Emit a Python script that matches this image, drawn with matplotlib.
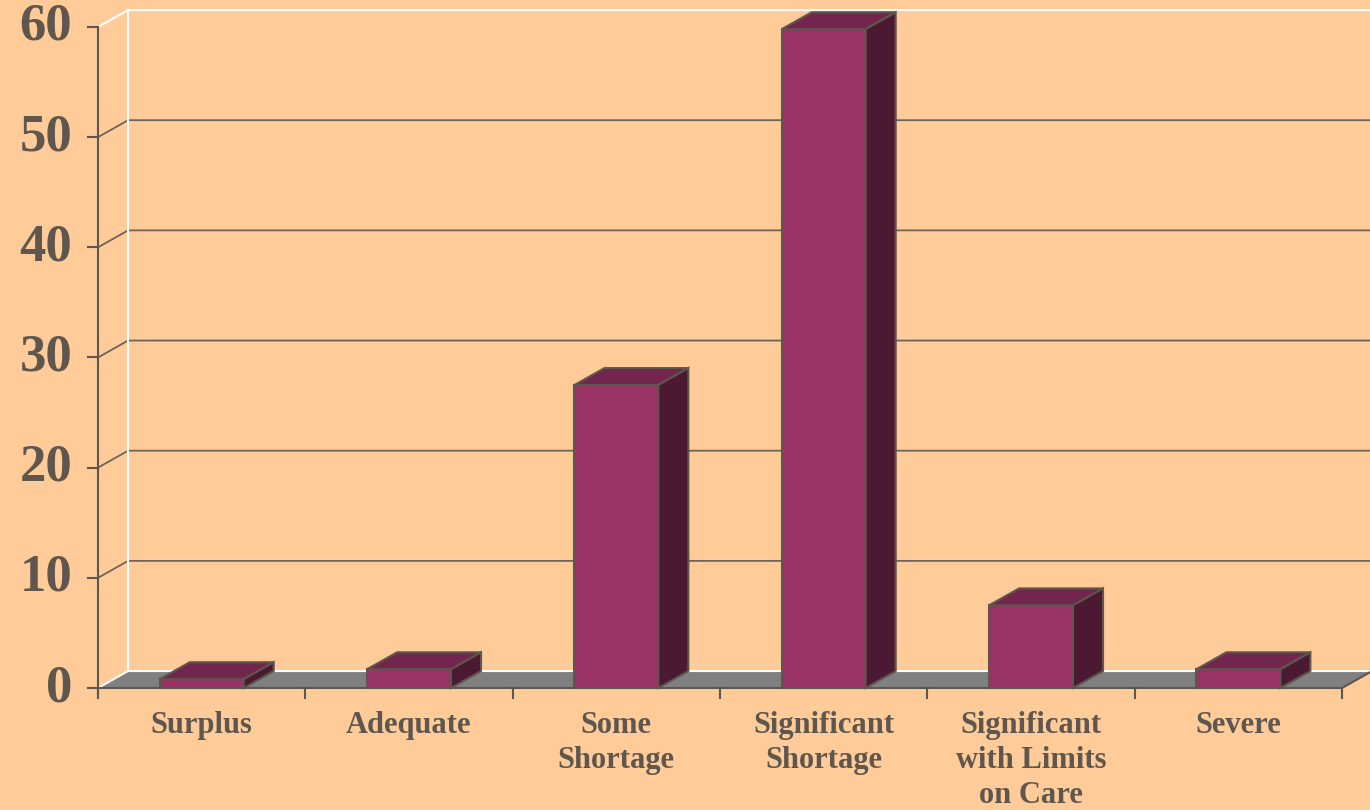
import matplotlib.pyplot as plt
from matplotlib.patches import Polygon

# data
categories = ['Surplus', 'Adequate', 'Some\nShortage', 'Significant\nShortage',
              'Significant\nwith Limits\non Care', 'Severe']
values = [0.8, 1.7, 27.5, 59.8, 7.5, 1.7]
yticks = [0, 10, 20, 30, 40, 50, 60]

bg = '#ffcc99'
txt = '#5f574e'
edge = '#5f574e'
front_c = '#993366'
top_c = '#72264d'
side_c = '#4c1933'

# 3d offset in data units
dx = 0.145
dy = 1.54
bw = 0.405

fig = plt.figure(figsize=(13.7, 8.1), dpi=100)
fig.patch.set_facecolor(bg)
ax = fig.add_axes([98 / 1370, 122 / 810, 1244 / 1370, 661 / 810])
ax.set_xlim(0, 6)
ax.set_ylim(0, 60)
ax.axis('off')

xr = 6.3  # right edge of back wall (past the figure)

# floor
ax.add_patch(Polygon([(0, 0), (6, 0), (6 + dx, dy), (dx, dy)], closed=True,
                     facecolor='#808080', edgecolor='none', clip_on=False, zorder=1))
ax.plot([0, 6, 6 + dx + 0.05], [0, 0, dy + 0.53], color=edge, lw=1.5, clip_on=False, zorder=2)

# back wall grid lines
for v in yticks[1:-1]:
    ax.plot([0, dx, xr], [v, v + dy, v + dy], color='#6e6259', lw=1.3, clip_on=False, zorder=1)
# white wall edges
ax.plot([0, dx, xr], [60, 60 + dy, 60 + dy], color='white', lw=1.5, clip_on=False, zorder=1)
ax.plot([dx, dx], [dy, 60 + dy], color='white', lw=1.5, clip_on=False, zorder=1)
ax.plot([0, dx, xr], [0, dy, dy], color='white', lw=1.5, clip_on=False, zorder=1)

# front axis
ax.plot([0, 0], [-0.9, 60], color=edge, lw=1.5, clip_on=False, zorder=2)
for v in yticks:
    ax.plot([-0.05, 0], [v, v], color=edge, lw=1.5, clip_on=False, zorder=2)
    ax.text(-0.125, v, str(v), ha='right', va='center', fontsize=38,
            fontweight='bold', family='Liberation Serif', color=txt)
for i in range(7):
    ax.plot([i, i], [0, -0.9], color=edge, lw=1.5, clip_on=False, zorder=2)

# bars
for i, (lab, v) in enumerate(zip(categories, values)):
    x0 = i + 0.5 - bw / 2
    x1 = x0 + bw
    kw = dict(closed=True, edgecolor=edge, lw=1.5, clip_on=False, zorder=3)
    ax.add_patch(Polygon([(x0, 0), (x1, 0), (x1, v), (x0, v)], facecolor=front_c, **kw))
    ax.add_patch(Polygon([(x0, v), (x1, v), (x1 + dx, v + dy), (x0 + dx, v + dy)],
                         facecolor=top_c, **kw))
    ax.add_patch(Polygon([(x1, 0), (x1 + dx, dy), (x1 + dx, v + dy), (x1, v)],
                         facecolor=side_c, **kw))
    ax.text(i + 0.5, -2.1, lab, ha='center', va='top', fontsize=22,
            fontweight='bold', family='Liberation Serif', color=txt, linespacing=1.28)

fig.savefig('out.png', dpi=100, facecolor=bg)
